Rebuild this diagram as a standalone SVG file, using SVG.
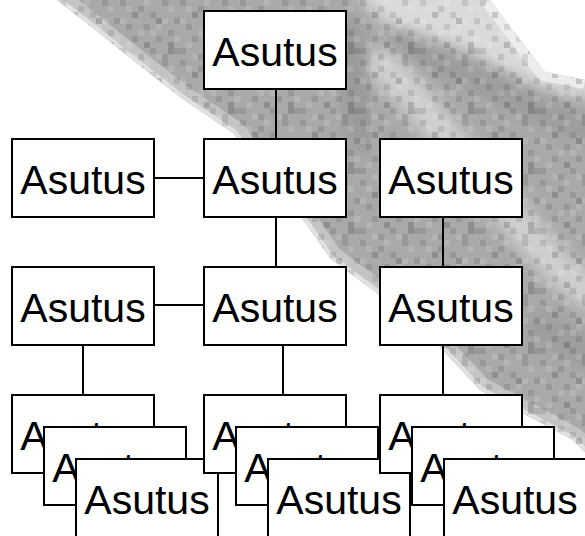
<svg xmlns="http://www.w3.org/2000/svg" width="585" height="536" viewBox="0 0 585 536">
<style>
.box{fill:#ffffff;stroke:#000000;stroke-width:2}
.lbl{font-family:"Liberation Sans",Arial,sans-serif;font-size:41px;fill:#000000;text-anchor:middle}
.con{stroke:#000000;stroke-width:2;fill:none}
</style>
<defs>
<clipPath id="bandClip">
<polygon points="57,0 490,0 520,40 545,72 585,80 585,452 573,440 480,390 440,347 377,293 350,273 330,258 305,222 233,133 180,97 133,60 83,20"/>
</clipPath>
<pattern id="pix" patternUnits="userSpaceOnUse" width="60" height="60">
<g fill="#000000" fill-opacity="0.1">
<rect x="0" y="0" width="6" height="6"/><rect x="18" y="6" width="6" height="6"/><rect x="42" y="0" width="6" height="6"/>
<rect x="30" y="12" width="6" height="6"/><rect x="54" y="18" width="6" height="6"/><rect x="6" y="24" width="6" height="6"/>
<rect x="24" y="24" width="6" height="6"/><rect x="48" y="30" width="6" height="6"/><rect x="12" y="36" width="6" height="6"/>
<rect x="36" y="36" width="6" height="6"/><rect x="0" y="48" width="6" height="6"/><rect x="30" y="48" width="6" height="6"/>
<rect x="54" y="48" width="6" height="6"/><rect x="18" y="54" width="6" height="6"/><rect x="42" y="54" width="6" height="6"/>
</g>
<g fill="#000000" fill-opacity="0.16">
<rect x="36" y="18" width="6" height="6"/><rect x="12" y="12" width="6" height="6"/><rect x="48" y="42" width="6" height="12"/><rect x="24" y="42" width="6" height="6"/>
</g>
<g fill="#ffffff" fill-opacity="0.13">
<rect x="6" y="6" width="6" height="6"/><rect x="24" y="0" width="6" height="6"/><rect x="48" y="6" width="6" height="6"/>
<rect x="0" y="18" width="6" height="6"/><rect x="36" y="24" width="6" height="6"/><rect x="18" y="30" width="6" height="6"/>
<rect x="42" y="18" width="6" height="6"/><rect x="6" y="42" width="6" height="6"/><rect x="54" y="36" width="6" height="6"/>
<rect x="30" y="30" width="6" height="6"/><rect x="12" y="54" width="6" height="6"/><rect x="36" y="54" width="6" height="6"/>
</g>
</pattern>
<filter id="soft" x="-30%" y="-30%" width="160%" height="160%"><feGaussianBlur stdDeviation="8"/></filter>
</defs>

<g id="background" clip-path="url(#bandClip)">
<rect x="0" y="0" width="585" height="536" fill="#a9a9a9"/>
<polygon points="345,-20 500,-20 600,70 600,100 540,90 460,50 390,30" fill="#dadada" filter="url(#soft)"/>
<polyline points="490,0 520,40 545,72 585,80" fill="none" stroke="#ececec" stroke-width="18"/>
<polyline points="385,38 470,75 540,110 600,135" fill="none" stroke="#9c9c9c" stroke-width="26" filter="url(#soft)"/>
<polyline points="372,55 410,92 440,130 480,175 520,225 560,270 600,300" fill="none" stroke="#d0d0d0" stroke-width="32" filter="url(#soft)"/>
<polyline points="345,20 355,90 365,150" fill="none" stroke="#9a9a9a" stroke-width="30" filter="url(#soft)"/>
<polyline points="530,320 600,360" fill="none" stroke="#9c9c9c" stroke-width="30" filter="url(#soft)"/>
<polyline points="57,0 83,20 133,60 180,97 233,133 305,222 330,258 350,273 377,293 440,347 480,390 573,440 585,452" fill="none" stroke="#c4c4c4" stroke-width="26"/>
<polyline points="57,0 83,20 133,60 180,97 233,133 305,222 330,258 350,273 377,293 440,347 480,390 573,440 585,452" fill="none" stroke="#e0e0e0" stroke-width="8"/>
<rect x="0" y="0" width="585" height="536" fill="url(#pix)"/>
</g>

<g id="connectors">
<line class="con" x1="276" y1="90" x2="276" y2="138"/>
<line class="con" x1="155" y1="178" x2="203" y2="178"/>
<line class="con" x1="276" y1="218" x2="276" y2="266"/>
<line class="con" x1="443" y1="218" x2="443" y2="266"/>
<line class="con" x1="155" y1="305" x2="203" y2="305"/>
<line class="con" x1="83" y1="346" x2="83" y2="394"/>
<line class="con" x1="283" y1="346" x2="283" y2="394"/>
<line class="con" x1="443" y1="346" x2="443" y2="394"/>
</g>

<g id="n-top"><rect class="box" x="204" y="11" width="142" height="78"/><text class="lbl" x="275" y="66">Asutus</text></g>
<g id="n-r2-left"><rect class="box" x="12" y="139" width="142" height="78"/><text class="lbl" x="83" y="194">Asutus</text></g>
<g id="n-r2-mid"><rect class="box" x="204" y="139" width="142" height="78"/><text class="lbl" x="275" y="194">Asutus</text></g>
<g id="n-r2-right"><rect class="box" x="380" y="139" width="142" height="78"/><text class="lbl" x="451" y="194">Asutus</text></g>
<g id="n-r3-left"><rect class="box" x="12" y="267" width="142" height="78"/><text class="lbl" x="83" y="322">Asutus</text></g>
<g id="n-r3-mid"><rect class="box" x="204" y="267" width="142" height="78"/><text class="lbl" x="275" y="322">Asutus</text></g>
<g id="n-r3-right"><rect class="box" x="380" y="267" width="142" height="78"/><text class="lbl" x="451" y="322">Asutus</text></g>

<g id="n-r4-left-1"><rect class="box" x="12" y="395" width="142" height="78"/><text class="lbl" x="83" y="450">Asutus</text></g>
<g id="n-r4-left-2"><rect class="box" x="44" y="427" width="142" height="78"/><text class="lbl" x="115" y="482">Asutus</text></g>
<g id="n-r4-left-3"><rect class="box" x="76" y="459" width="142" height="78"/><text class="lbl" x="147" y="514">Asutus</text></g>
<g id="n-r4-mid-1"><rect class="box" x="204" y="395" width="142" height="78"/><text class="lbl" x="275" y="450">Asutus</text></g>
<g id="n-r4-mid-2"><rect class="box" x="236" y="427" width="142" height="78"/><text class="lbl" x="307" y="482">Asutus</text></g>
<g id="n-r4-mid-3"><rect class="box" x="268" y="459" width="142" height="78"/><text class="lbl" x="339" y="514">Asutus</text></g>
<g id="n-r4-right-1"><rect class="box" x="380" y="395" width="142" height="78"/><text class="lbl" x="451" y="450">Asutus</text></g>
<g id="n-r4-right-2"><rect class="box" x="412" y="427" width="142" height="78"/><text class="lbl" x="483" y="482">Asutus</text></g>
<g id="n-r4-right-3"><rect class="box" x="444" y="459" width="142" height="78"/><text class="lbl" x="515" y="514">Asutus</text></g>
</svg>
